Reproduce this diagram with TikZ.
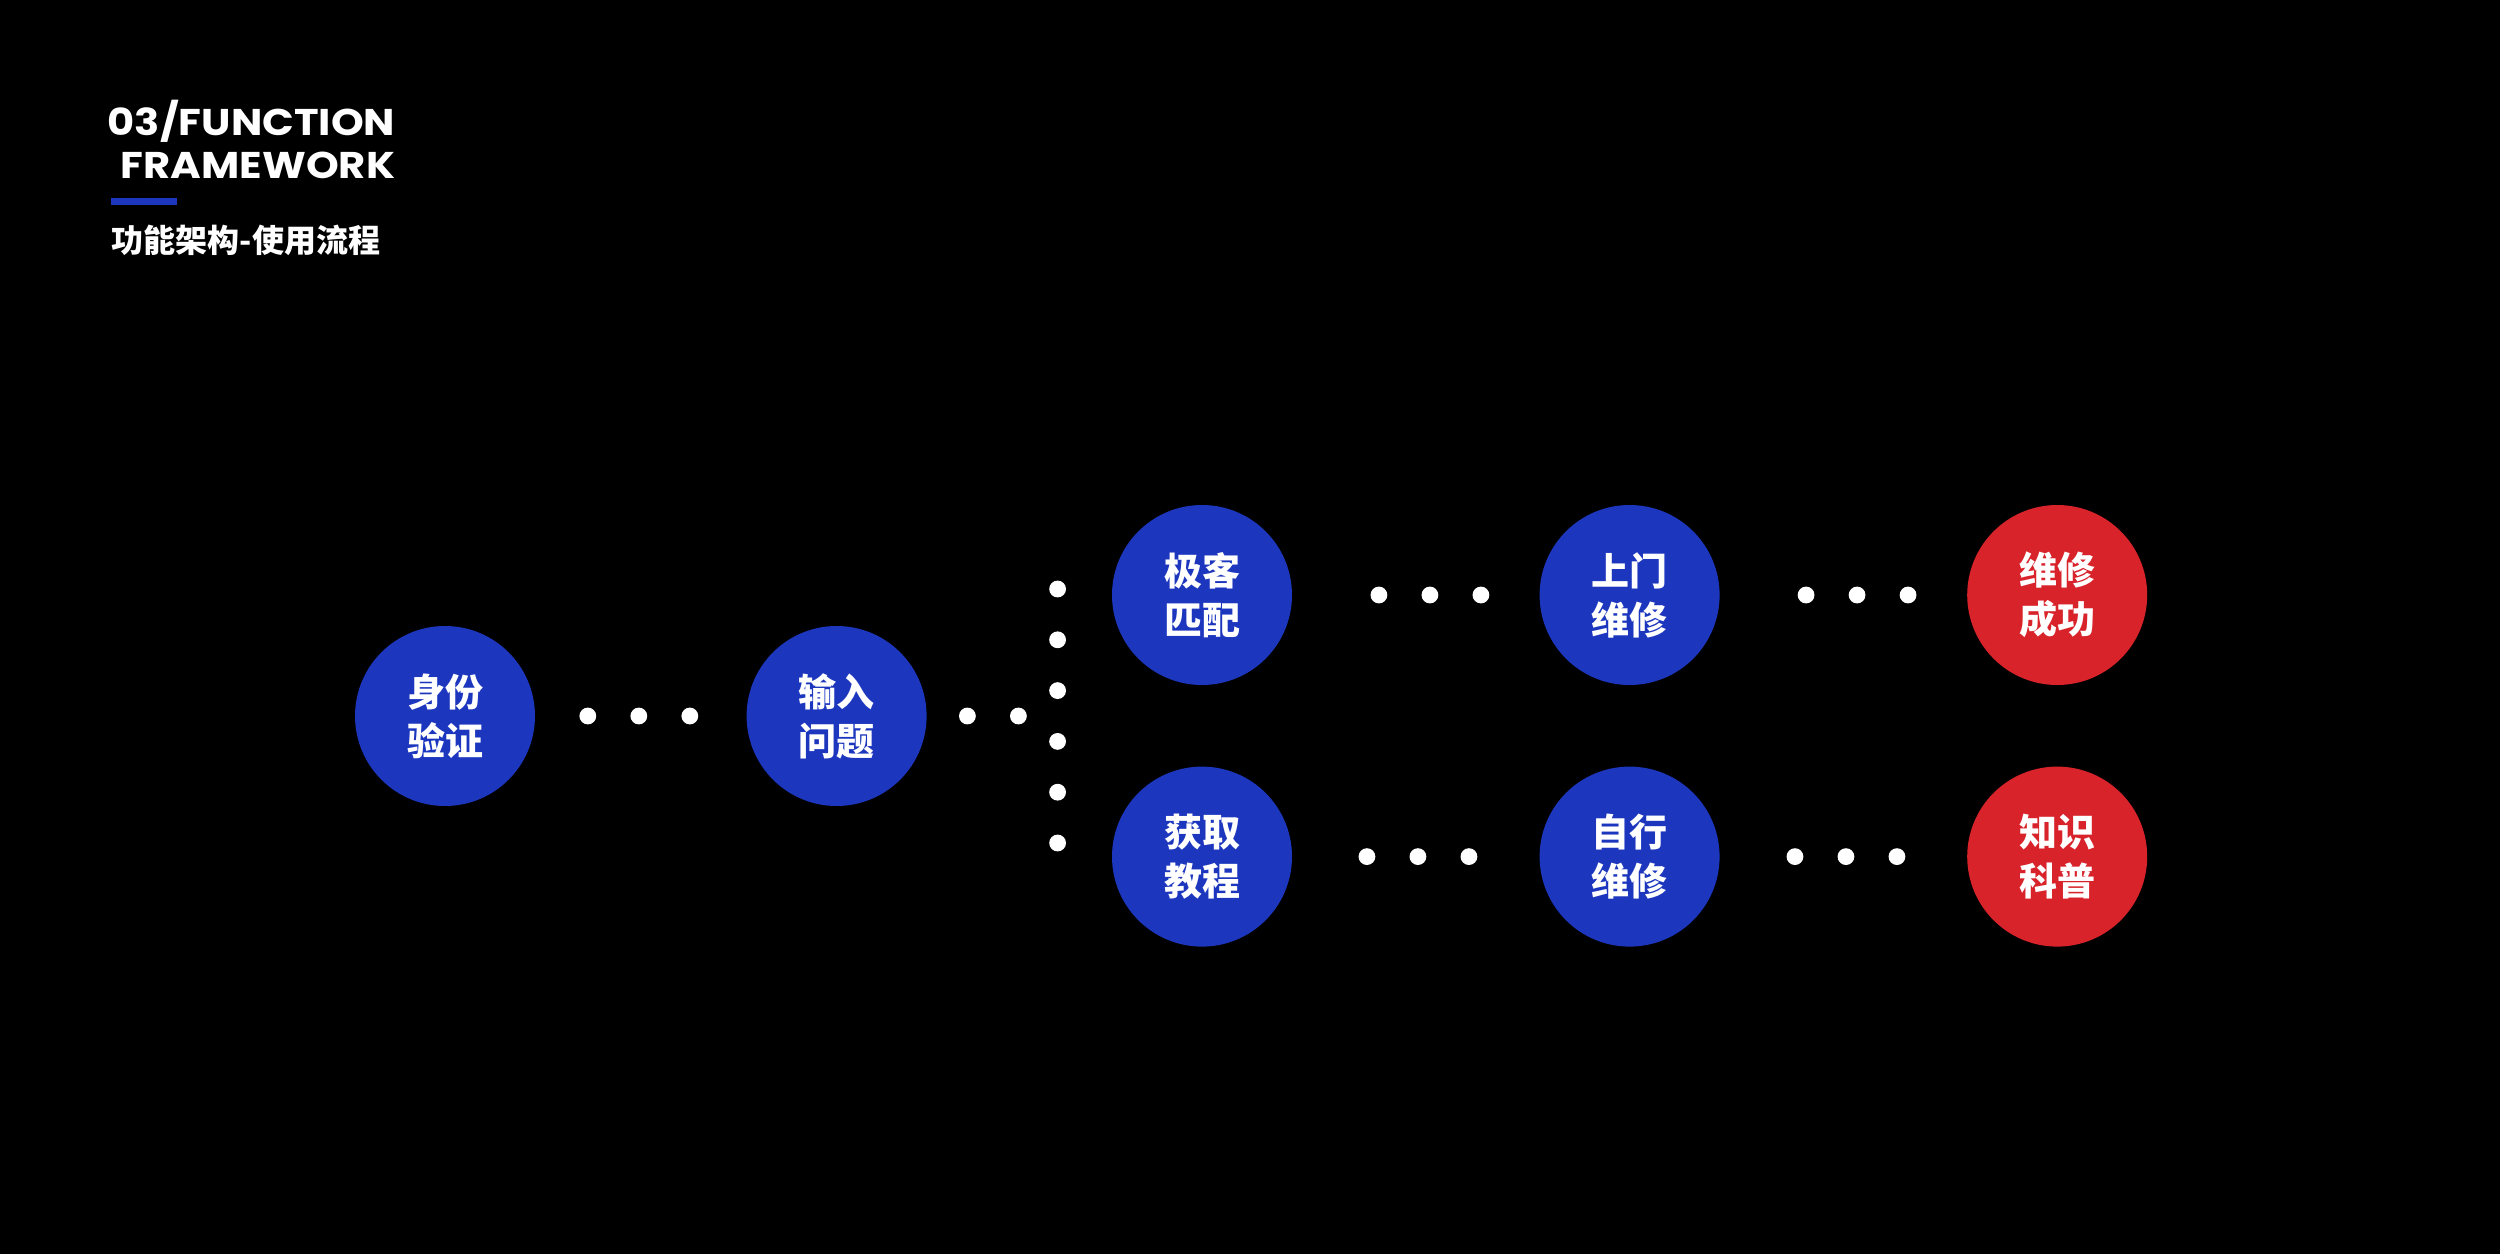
\documentclass[tikz,border=0pt]{standalone}
\usepackage{fontspec}
\setmainfont{Poppins}
\newfontfamily\headfont{Poppins}[FakeStretch=1.12]
\newfontfamily\cjk{Noto Sans CJK SC}
\usepackage{tikz}
\usetikzlibrary{positioning,calc}
\definecolor{fwBlue}{HTML}{1C37BE}
\definecolor{fwRed}{HTML}{D8232B}

\begin{document}
\begin{tikzpicture}[x=0.25pt, y=-0.25pt,
  every node/.style={text=white, inner sep=0pt},
  title/.style={font=\headfont\bfseries\fontsize{9.3pt}{10.75pt}\selectfont, align=right},
  subtitle/.style={font=\cjk\bfseries\fontsize{8pt}{10pt}\selectfont},
  stage/.style={circle, fill=fwBlue, minimum size=45pt, align=center,
                font=\cjk\bfseries\fontsize{9.5pt}{12.25pt}\selectfont},
  goal/.style={stage, fill=fwRed},
  dot/.style={fill=white}
]
  \fill[black] (0,0) rectangle (2500,1254);
  \useasboundingbox (0,0) rectangle (2500,1254);

  % heading
  \node[title, anchor=base east] (title) at (396,178) {03/FUNCTION\\ FRAMEWORK};
  \fill[fwBlue] (111,198) rectangle (177,205);
  \node[subtitle, anchor=base west] (subtitle) at (111,252) {功能架构-使用流程};

  % flow
  \node[stage] (id) at (445,716) {身份\\验证};
  \node[stage, right=52.5pt of id] (input) {输入\\问题};
  \node[stage] (match) at (1202,595) {极客\\匹配};
  \node[stage, below=20pt of match] (tutorial) {获取\\教程};
  \node[stage, right=61.5pt of match] (onsite) {上门\\维修};
  \node[stage, right=61.5pt of tutorial] (self) {自行\\维修};
  \node[goal, right=61.5pt of onsite] (success) {维修\\成功};
  \node[goal, right=61.5pt of self] (science) {知识\\科普};
  \coordinate (fork) at ($(input)+(55.25pt,0)$);

  % dotted links
  \foreach \a/\b/\r in {id/input/0.495, match/onsite/0.533, onsite/success/0.532,
                        tutorial/self/0.505, self/science/0.506}
    \foreach \k in {-1,0,1}
      \fill[dot] ($(\a)!\r!(\b)+(\k*12.75pt,0)$) circle (2.1pt);
  \foreach \d in {10,22.75}
    \fill[dot] ($(input.east)+(\d pt,0)$) circle (2.1pt);
  \foreach \k in {-5,-3,-1,1,3,5}
    \fill[dot] ($(fork)+(0,\k*6.35pt)$) circle (2.1pt);
\end{tikzpicture}
\end{document}
